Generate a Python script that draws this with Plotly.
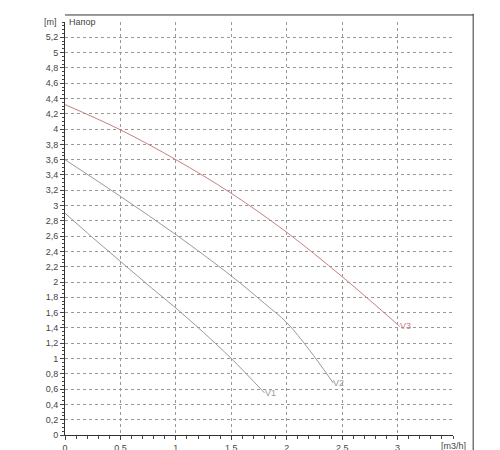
import plotly.graph_objects as go

x1 = [0, 0.25, 0.5, 0.75, 1.0, 1.25, 1.5, 1.8]
y1 = [2.9, 2.58, 2.27, 1.96, 1.66, 1.34, 1.0, 0.55]
x2 = [0, 0.5, 1.0, 1.5, 1.8, 2.0, 2.2, 2.42]
y2 = [3.6, 3.12, 2.62, 2.08, 1.72, 1.47, 1.12, 0.68]
x3 = [0, 0.5, 1.0, 1.5, 2.0, 2.5, 3.02]
y3 = [4.32, 3.99, 3.6, 3.16, 2.65, 2.07, 1.42]
names = ["V1", "V2", "V3"]
colors = ["#999999", "#999999", "#c88080"]
ytick_vals = [i / 5 for i in range(27)]
ytick_text = [("%g" % round(v, 1)).replace(".", ",") for v in ytick_vals]
xtick_vals = [0, 0.5, 1, 1.5, 2, 2.5, 3]
xtick_text = ["0", "0,5", "1", "1,5", "2", "2,5", "3"]

fig = go.Figure()
for xs, ys, n, c in zip([x1, x2, x3], [y1, y2, y3], names, colors):
    fig.add_trace(go.Scatter(x=xs, y=ys, mode="lines", line=dict(color=c, width=1, shape="spline"), showlegend=False))
    fig.add_annotation(x=xs[-1], y=ys[-1], text=n, showarrow=False, xanchor="left", yanchor="middle",
                       font=dict(size=9, color=c), xshift=-2)

fig.add_annotation(x=0, y=5.4, xref="x", yref="y", text="[m]", showarrow=False, xanchor="right", xshift=-6,
                   font=dict(size=9, color="#444"))
fig.add_annotation(x=0, y=5.4, text="Напор", showarrow=False, xanchor="left", xshift=2,
                   font=dict(size=9, color="#444"))
fig.add_annotation(x=3.5, y=0, text="[m3/h]", showarrow=False, yanchor="top", yshift=-4,
                   font=dict(size=9, color="#444"))

fig.update_layout(
    width=500, height=450, paper_bgcolor="white", plot_bgcolor="white",
    margin=dict(l=57, r=55, t=14, b=23),
    font=dict(family="Liberation Sans", size=9, color="#444"),
    shapes=[dict(type="line", xref="paper", yref="paper", x0=1.052, x1=1.052, y0=-0.1, y1=1.02,
                 line=dict(color="#333", width=1)),
            dict(type="line", xref="paper", yref="paper", x0=0, x1=1.052, y0=1.017, y1=1.017,
                 line=dict(color="#333", width=1))],
)
fig.update_xaxes(range=[0, 3.5], tickvals=xtick_vals, ticktext=xtick_text, showgrid=True, automargin=False,
                 gridcolor="#999", griddash="dot", zeroline=False, showline=True, linecolor="#333",
                 ticks="outside", ticklen=4, minor=dict(ticks="outside", dtick=0.1, ticklen=3))
fig.update_yaxes(range=[0, 5.4], tickvals=ytick_vals, ticktext=ytick_text, showgrid=True, automargin=False,
                 gridcolor="#999", griddash="dot", zeroline=False, showline=True, linecolor="#333",
                 ticks="outside", ticklen=4, minor=dict(ticks="outside", dtick=0.05, ticklen=2))
fig.write_html("out.html")
